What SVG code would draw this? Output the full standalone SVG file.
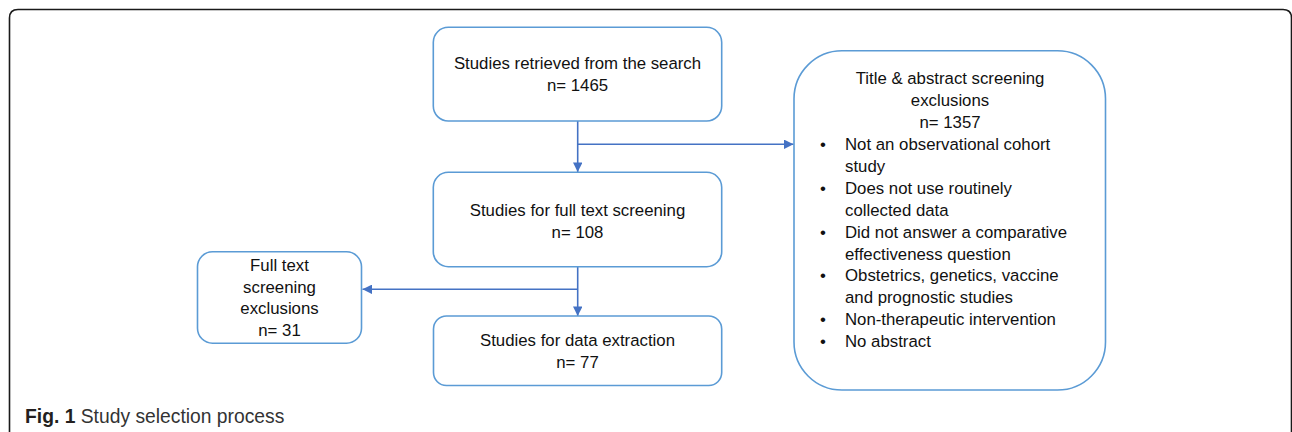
<svg xmlns="http://www.w3.org/2000/svg" width="1292" height="432" viewBox="0 0 1292 432">
<style>
  .box { fill: #ffffff; stroke: #5B9BD5; stroke-width: 1.6; }
  .conn { fill: none; stroke: #4472C4; stroke-width: 1.6; }
  .t { font-family: "Liberation Sans", Arial, sans-serif; font-size: 16.8px; fill: #111111; }
  .c { text-anchor: middle; }
  .cap { font-family: "Liberation Sans", Arial, sans-serif; font-size: 19.3px; fill: #333333; }
</style>
<defs>
  <marker id="arrow" viewBox="0 0 10 10" refX="10" refY="5" markerWidth="10" markerHeight="9.5" markerUnits="userSpaceOnUse" orient="auto">
    <path d="M0,0 L10,5 L0,10 Z" fill="#4472C4"/>
  </marker>
</defs>
<rect width="1292" height="432" fill="#ffffff"/>
<path d="M9.5,432 V18 Q9.5,9.5 18,9.5 H1283 Q1291.5,9.5 1291.5,18 V432" fill="none" stroke="#1a1a1a" stroke-width="1.6"/>

<g id="connectors">
  <path class="conn" d="M577.7,121 V172" marker-end="url(#arrow)"/>
  <path class="conn" d="M577.7,144.3 H793.5" marker-end="url(#arrow)"/>
  <path class="conn" d="M577.7,266.7 V316" marker-end="url(#arrow)"/>
  <path class="conn" d="M577.7,289.3 H362.5" marker-end="url(#arrow)"/>
</g>

<g id="node-retrieved">
  <rect class="box" x="433.3" y="27.3" width="288.4" height="93.7" rx="15"/>
  <text class="t c" x="577.5" y="69.3">Studies retrieved from the search</text>
  <text class="t c" x="577.5" y="91.3">n= 1465</text>
</g>

<g id="node-fulltext">
  <rect class="box" x="433.3" y="172.3" width="288.4" height="94.4" rx="15"/>
  <text class="t c" x="577.5" y="215.7">Studies for full text screening</text>
  <text class="t c" x="577.5" y="237.7">n= 108</text>
</g>

<g id="node-extraction">
  <rect class="box" x="433.5" y="316" width="288.2" height="69.5" rx="13"/>
  <text class="t c" x="577.5" y="346">Studies for data extraction</text>
  <text class="t c" x="577.5" y="368">n= 77</text>
</g>

<g id="node-ft-exclusions">
  <rect class="box" x="197.5" y="251.8" width="164" height="91.4" rx="15"/>
  <text class="t c" x="279.5" y="271">Full text</text>
  <text class="t c" x="279.5" y="292.5">screening</text>
  <text class="t c" x="279.5" y="314">exclusions</text>
  <text class="t c" x="279.5" y="335.5">n= 31</text>
</g>

<g id="node-ta-exclusions">
  <rect class="box" x="794" y="50.8" width="311.5" height="339.2" rx="48"/>
  <text class="t c" x="950" y="84.3">Title &amp; abstract screening</text>
  <text class="t c" x="950" y="106.2">exclusions</text>
  <text class="t c" x="950" y="128.1">n= 1357</text>
  <text class="t" x="820" y="150">•</text>
  <text class="t" x="845" y="150">Not an observational cohort</text>
  <text class="t" x="845" y="171.9">study</text>
  <text class="t" x="820" y="193.8">•</text>
  <text class="t" x="845" y="193.8">Does not use routinely</text>
  <text class="t" x="845" y="215.7">collected data</text>
  <text class="t" x="820" y="237.6">•</text>
  <text class="t" x="845" y="237.6">Did not answer a comparative</text>
  <text class="t" x="845" y="259.5">effectiveness question</text>
  <text class="t" x="820" y="281.4">•</text>
  <text class="t" x="845" y="281.4">Obstetrics, genetics, vaccine</text>
  <text class="t" x="845" y="303.3">and prognostic studies</text>
  <text class="t" x="820" y="325.2">•</text>
  <text class="t" x="845" y="325.2">Non-therapeutic intervention</text>
  <text class="t" x="820" y="347.1">•</text>
  <text class="t" x="845" y="347.1">No abstract</text>
</g>

<text class="cap" x="25" y="423"><tspan font-weight="bold" fill="#231f20">Fig. 1</tspan> Study selection process</text>
</svg>
